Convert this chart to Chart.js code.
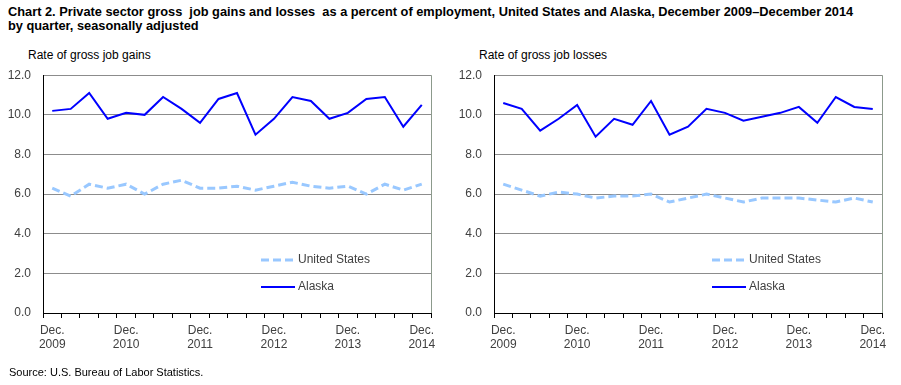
<!DOCTYPE html>
<html>
<head>
<meta charset="utf-8">
<script src="https://cdn.jsdelivr.net/npm/chart.js@4"></script>
<style>
  body { margin: 0; background: #fff; font-family: Arial, "Liberation Sans", sans-serif; }
  #page { position: relative; width: 901px; height: 385px; overflow: hidden; }
  .t { position: absolute; white-space: nowrap; color: #000; }
  #title { left: 8px; top: 5px; font-size: 12.8px; font-weight: bold; line-height: 14px; }
  .sub { top: 48px; font-size: 12px; }
  #source { left: 9px; top: 366px; font-size: 11px; }
  .wrap { position: absolute; top: 56px; }
</style>
</head>
<body>
<div id="page">
  <div id="title" class="t">Chart 2. Private sector gross&nbsp; job gains and losses&nbsp; as a percent of employment, United States and Alaska, December 2009–December 2014<br>by quarter, seasonally adjusted</div>
  <div class="t sub" style="left:28px">Rate of gross job gains</div>
  <div class="t sub" style="left:479px">Rate of gross job losses</div>
  <div class="wrap" style="left:0"><canvas id="gains" width="450" height="324"></canvas></div>
  <div class="wrap" style="left:450px"><canvas id="losses" width="451" height="324"></canvas></div>
  <div id="source" class="t">Source: U.S. Bureau of Labor Statistics.</div>
</div>
<script>
(() => {
    "use strict";

    const quarters = [
        "Dec. 2009", "Mar. 2010", "June 2010", "Sept. 2010", "Dec. 2010",
        "Mar. 2011", "June 2011", "Sept. 2011", "Dec. 2011",
        "Mar. 2012", "June 2012", "Sept. 2012", "Dec. 2012",
        "Mar. 2013", "June 2013", "Sept. 2013", "Dec. 2013",
        "Mar. 2014", "June 2014", "Sept. 2014", "Dec. 2014",
    ];
    const usGains = [6.3, 5.9, 6.5, 6.3, 6.5, 6.0, 6.5, 6.7, 6.3, 6.3, 6.4, 6.2, 6.4, 6.6, 6.4, 6.3, 6.4, 6.0, 6.5, 6.2, 6.5];
    const akGains = [10.2, 10.3, 11.1, 9.8, 10.1, 10.0, 10.9, 10.3, 9.6, 10.8, 11.1, 9.0, 9.8, 10.9, 10.7, 9.8, 10.1, 10.8, 10.9, 9.4, 10.5];
    const usLosses = [6.5, 6.2, 5.9, 6.1, 6.0, 5.8, 5.9, 5.9, 6.0, 5.6, 5.8, 6.0, 5.8, 5.6, 5.8, 5.8, 5.8, 5.7, 5.6, 5.8, 5.6];
    const akLosses = [10.6, 10.3, 9.2, 9.8, 10.5, 8.9, 9.8, 9.5, 10.7, 9.0, 9.4, 10.3, 10.1, 9.7, 9.9, 10.1, 10.4, 9.6, 10.9, 10.4, 10.3];

    const FONT = "Arial, 'Liberation Sans', sans-serif";
    const TEXT = "#404040";

    // legend drawn inside the plot, plus the grey right-hand frame line
    const insideLegend = {
        id: "insideLegend",
        afterDraw(chart) {
            const { ctx, chartArea } = chart;
            ctx.save();
            ctx.strokeStyle = "#8c9a8c";
            ctx.lineWidth = 1;
            ctx.beginPath();
            ctx.moveTo(chartArea.right + 0.5, chartArea.top);
            ctx.lineTo(chartArea.right + 0.5, chartArea.bottom);
            ctx.stroke();

            ctx.font = "12px " + FONT;
            ctx.textBaseline = "middle";
            ctx.fillStyle = TEXT;
            const x = chartArea.left + 218;
            chart.data.datasets.forEach((ds, i) => {
                const y = chartArea.bottom - 53 + i * 27;
                ctx.strokeStyle = ds.borderColor;
                ctx.lineWidth = ds.borderWidth;
                ctx.setLineDash(ds.borderDash || []);
                ctx.beginPath();
                ctx.moveTo(x, y);
                ctx.lineTo(x + 34, y);
                ctx.stroke();
                ctx.setLineDash([]);
                ctx.fillText(ds.label, x + 37, y);
            });
            ctx.restore();
        },
    };

    function makeChart(id, us, ak, yWidth) {
        // @ts-ignore
        return new Chart(document.getElementById(id), {
            type: "line",
            data: {
                labels: quarters,
                datasets: [
                    {
                        label: "United States",
                        data: us,
                        borderColor: "#99c8ff",
                        borderWidth: 3,
                        borderDash: [8, 4],
                        pointRadius: 0,
                        tension: 0,
                    },
                    {
                        label: "Alaska",
                        data: ak,
                        borderColor: "#0000ff",
                        borderWidth: 2,
                        pointRadius: 0,
                        tension: 0,
                    },
                ],
            },
            options: {
                responsive: false,
                animation: false,
                layout: { padding: { top: 13, right: 19, bottom: 0, left: 0 } },
                plugins: {
                    legend: { display: false },
                    tooltip: { enabled: false },
                },
                scales: {
                    x: {
                        offset: true,
                        afterFit: (s) => { s.height = 67; },
                        grid: {
                            offset: true,
                            drawOnChartArea: false,
                            drawTicks: true,
                            tickLength: 5,
                            tickColor: "#000",
                        },
                        border: { color: "#000", width: 1 },
                        ticks: {
                            autoSkip: false,
                            maxRotation: 0,
                            padding: 6,
                            color: TEXT,
                            font: { family: FONT, size: 12, lineHeight: 1.15 },
                            callback: (v, i) => (i % 4 === 0 ? quarters[i].split(" ") : ""),
                        },
                    },
                    y: {
                        min: 0,
                        max: 12,
                        afterFit: (s) => { s.width = yWidth; },
                        grid: { color: "#8c8c8c", lineWidth: 1, drawTicks: false },
                        border: { color: "#000", width: 1 },
                        ticks: {
                            stepSize: 2,
                            padding: 12,
                            color: TEXT,
                            font: { family: FONT, size: 12 },
                            callback: (v) => Number(v).toFixed(1),
                        },
                    },
                },
            },
            plugins: [insideLegend],
        });
    }

    makeChart("gains", usGains, akGains, 43);
    makeChart("losses", usLosses, akLosses, 44);
})();
</script>
</body>
</html>
